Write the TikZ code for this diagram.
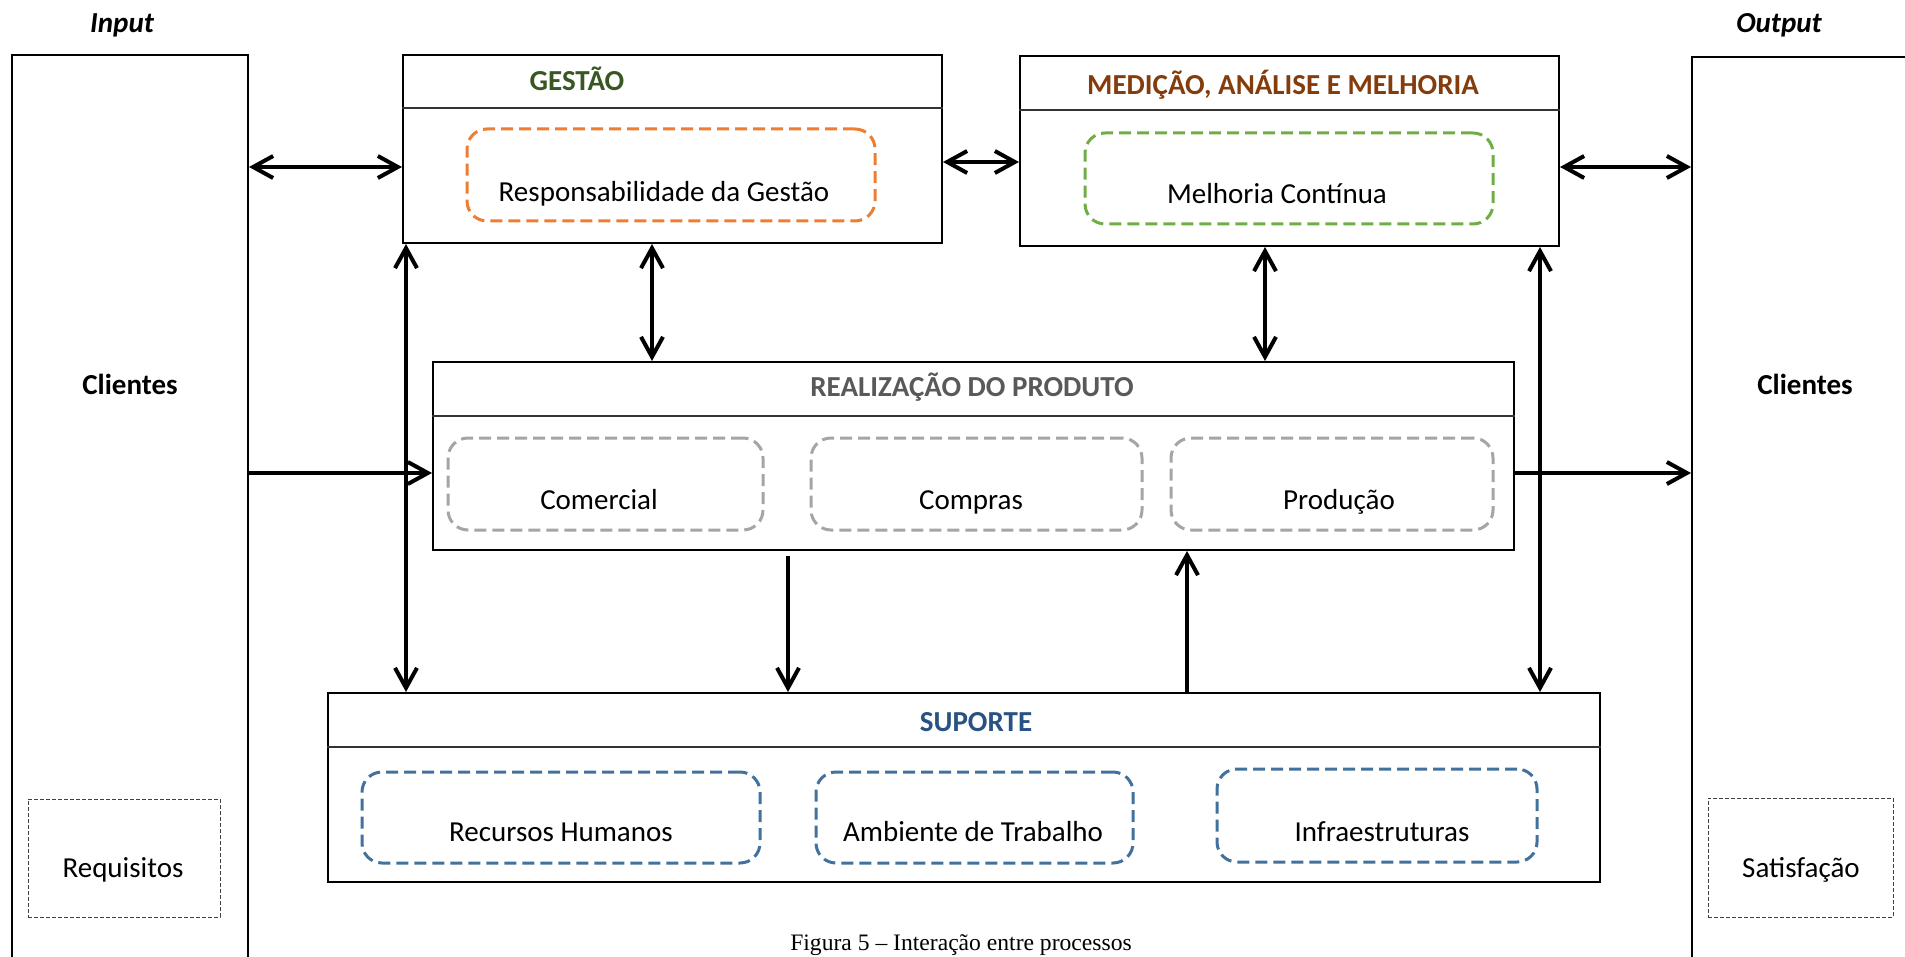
\documentclass[tikz,border=0pt]{standalone}
\usepackage{fontspec}
\setmainfont{Carlito}
\newfontfamily\captionfont{Liberation Serif}
\usetikzlibrary{arrows.meta, positioning}

\definecolor{gestgreen}{RGB}{56,87,35}
\definecolor{medbrown}{RGB}{132,60,12}
\definecolor{realgray}{RGB}{89,89,89}
\definecolor{supblue}{RGB}{40,82,130}
\definecolor{dashorange}{RGB}{237,125,49}
\definecolor{dashgreen}{RGB}{112,173,71}
\definecolor{dashgray}{RGB}{165,165,165}
\definecolor{dashblue}{RGB}{65,113,156}

\begin{document}
\begin{tikzpicture}[
x=0.5pt, y=-0.5pt,
font=\fontsize{14.5}{17}\selectfont,
box/.style={draw, line width=1pt, inner sep=0pt},
unit/.style={draw=#1, line width=1.5pt, dash pattern=on 6pt off 3pt, rounded corners=10pt, inner sep=0pt},
reqbox/.style={draw=black!75, line width=0.5pt, dash pattern=on 2pt off 1pt, inner sep=0pt},
heading/.style={anchor=base, font=\fontsize{14.5}{17}\selectfont\bfseries},
txt/.style={anchor=base},
header/.style={line width=0.6pt, black!80},
arrow/.style={-{Straight Barb[length=10pt,width=11pt]}, line width=2pt},
biarrow/.style={{Straight Barb[length=10pt,width=11pt]}-{Straight Barb[length=10pt,width=11pt]}, line width=2pt}
]
\useasboundingbox (0,0) rectangle (1905,957);
\clip (0,0) rectangle (1905,957);

% clients (input / output)
\node[box, minimum width=118pt, minimum height=472.5pt] (inL) at (130,527.5) {};
\node[box, minimum width=134pt, minimum height=471.5pt] (outR) at (1826,528.5) {};
\node[heading, font=\fontsize{14.5}{17}\selectfont\bfseries\itshape] (tInput) at (122,33) {Input};
\node[heading, font=\fontsize{14.5}{17}\selectfont\bfseries\itshape] (tOutput) at (1779,33) {Output};
\node[heading] (cliIn) at (130,394) {Clientes};
\node[heading] (cliOut) at (1805,394) {Clientes};
\node[reqbox, minimum width=96pt, minimum height=59pt] (requisitos) at (124,858) {};
\node[txt] at (123,877) {Requisitos};
\node[reqbox, minimum width=92.5pt, minimum height=59.5pt] (satisfacao) at (1800.5,857.5) {};
\node[txt] at (1801,877) {Satisfação};

% process blocks
\node[box, minimum width=269.5pt, minimum height=94pt] (gestao) at (672.5,149) {};
\node[box, minimum width=269.5pt, minimum height=95pt] (medicao) at (1289.5,151) {};
\node[box, minimum width=540.5pt, minimum height=94pt] (realizacao) at (973.5,456) {};
\node[box, minimum width=636pt, minimum height=94.5pt] (suporte) at (964,787.5) {};
\foreach \b/\d in {gestao/27pt, medicao/27.5pt, realizacao/27.5pt, suporte/27.5pt}
  \draw[header] ([yshift=-\d]\b.north west) -- ([yshift=-\d]\b.north east);

\node[heading, text=gestgreen] (tGestao) at (577,91) {GESTÃO};
\node[heading, text=medbrown] (tMedicao) at (1283,95) {MEDIÇÃO, ANÁLISE E MELHORIA};
\node[heading, text=realgray] (tRealizacao) at (972,396) {REALIZAÇÃO DO PRODUTO};
\node[heading, text=supblue] (tSuporte) at (976,731) {SUPORTE};

% sub-processes
\node[unit=dashorange, minimum width=204pt, minimum height=46pt] (resp) at (671,175) {};
\node[txt] at (664,202) {Responsabilidade da Gestão};
\node[unit=dashgreen, minimum width=204pt, minimum height=45.5pt] (melhoria) at (1289,178.5) {};
\node[txt] at (1277,204) {Melhoria Contínua};
\node[unit=dashgray, minimum width=157.5pt, minimum height=46pt] (comercial) at (605.5,484) {};
\node[txt] at (599,509) {Comercial};
\node[unit=dashgray, minimum width=165.5pt, minimum height=46pt] (compras) at (976.5,484) {};
\node[txt] at (971,509) {Compras};
\node[unit=dashgray, minimum width=161pt, minimum height=46pt] (producao) at (1332,484) {};
\node[txt] at (1339,509) {Produção};
\node[unit=dashblue, minimum width=199pt, minimum height=45.5pt] (recursos) at (561,817.5) {};
\node[txt] at (561,841) {Recursos Humanos};
\node[unit=dashblue, minimum width=158.5pt, minimum height=45.5pt] (ambiente) at (974.5,817.5) {};
\node[txt] at (973,841) {Ambiente de Trabalho};
\node[unit=dashblue, minimum width=160pt, minimum height=46.5pt] (infra) at (1377,815.5) {};
\node[txt] at (1382,841) {Infraestruturas};

\node[anchor=base, font=\captionfont\fontsize{11.8}{14}\selectfont] (caption) at (961,950) {Figura 5 – Interação entre processos};

% interactions
\draw[biarrow] (inL.east |- 0,167) -- (gestao.west |- 0,167);
\draw[biarrow] (gestao.east |- 0,162) -- (medicao.west |- 0,162);
\draw[biarrow] (medicao.east |- 0,167) -- (outR.west |- 0,167);
\draw[arrow] (inL.east |- 0,473) -- (realizacao.west |- 0,473);
\draw[arrow] (realizacao.east |- 0,473) -- (outR.west |- 0,473);
\draw[biarrow] (gestao.south -| 652,0) -- (realizacao.north -| 652,0);
\draw[biarrow] (medicao.south -| 1265,0) -- (realizacao.north -| 1265,0);
\draw[biarrow] (gestao.south -| 406,0) -- (suporte.north -| 406,0);
\draw[biarrow] (medicao.south -| 1540,0) -- (suporte.north -| 1540,0);
\draw[arrow, shorten <=2.5pt] (realizacao.south -| 788,0) -- (suporte.north -| 788,0);
\draw[arrow] (suporte.north -| 1187,0) -- (realizacao.south -| 1187,0);
\end{tikzpicture}
\end{document}
